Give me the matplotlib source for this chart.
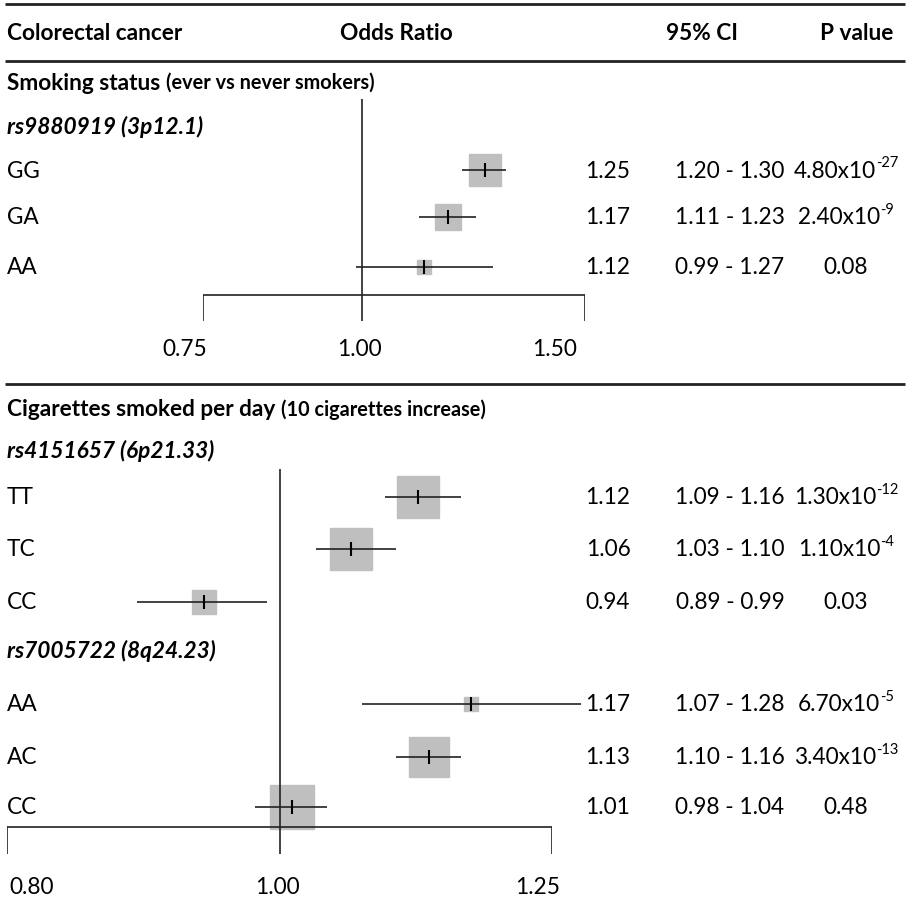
import matplotlib
matplotlib.use('Agg')
import matplotlib.pyplot as plt
from matplotlib.transforms import offset_copy

plt.rcParams['font.family'] = ['Lato', 'DejaVu Sans']

# --- data -------------------------------------------------------------
top_genotypes = ['GG', 'GA', 'AA']
top_or = [1.25, 1.17, 1.12]
top_lo = [1.20, 1.11, 0.99]
top_hi = [1.30, 1.23, 1.27]
top_p = [('4.80x10', '-27'), ('2.40x10', '-9'), ('0.08', '')]
top_weight = [32, 27, 14]          # box side, px
top_ticks = [0.75, 1.00, 1.50]

bot_snps = ['rs4151657 (6p21.33)', 'rs7005722 (8q24.23)']
bot_genotypes = [['TT', 'TC', 'CC'], ['AA', 'AC', 'CC']]
bot_or = [[1.12, 1.06, 0.94], [1.17, 1.13, 1.01]]
bot_lo = [[1.09, 1.03, 0.89], [1.07, 1.10, 0.98]]
bot_hi = [[1.16, 1.10, 0.99], [1.28, 1.16, 1.04]]
bot_p = [[('1.30x10', '-12'), ('1.10x10', '-4'), ('0.03', '')],
         [('6.70x10', '-5'), ('3.40x10', '-13'), ('0.48', '')]]
bot_weight = [[42, 43, 25], [15, 41, 44]]
bot_ticks = [0.80, 1.00, 1.25]

# --- layout -----------------------------------------------------------
W, H = 916, 904
fig = plt.figure(figsize=(W / 100, H / 100), dpi=100)
ax0 = fig.add_axes([0, 0, 1, 1])
ax0.set_xlim(0, W)
ax0.set_ylim(H, 0)
ax0.axis('off')
renderer = fig.canvas.get_renderer()

FS = 16.3
FS_SMALL = 14.3
FS_SUP = 10.5
BOX = '#bfbfbf'
LINE = '#222222'
X_OR, X_CI, X_P = 608, 730, 846


def forest_axes(x0, x1, y0, y1, lims):
    ax = fig.add_axes([x0 / W, 1 - y1 / H, (x1 - x0) / W, (y1 - y0) / H])
    ax.set_xscale('log')
    ax.set_xlim(*lims)
    ax.set_ylim(y1, y0)
    ax.axis('off')
    return ax


def pvalue(y, mant, expo):
    base = ax0.text(X_P, y, mant, fontsize=FS, va='center', ha='left')
    if not expo:
        base.set_ha('center')
        return
    sup = ax0.annotate(expo, xy=(1.0, 0.88), xycoords=base, fontsize=FS_SUP,
                       va='center', ha='left')
    w = base.get_window_extent(renderer).width + sup.get_window_extent(renderer).width
    base.set_x(X_P - w / 2)


def draw_row(ax, y, label, orv, lo, hi, pv, box):
    ax.plot(orv, y, marker='s', ms=box / 1.389, color=BOX, mec=BOX, clip_on=False, zorder=2)
    ax.hlines(y, lo, hi, color=LINE, lw=1.2, clip_on=False, zorder=3)
    ax.plot(orv, y, marker='|', ms=10, mew=1.5, color='black', clip_on=False, zorder=4)
    ax0.text(7, y, label, fontsize=FS, va='center', ha='left')
    ax0.text(X_OR, y, f'{orv:.2f}', fontsize=FS, va='center', ha='center')
    ax0.text(X_CI, y, f'{lo:.2f} - {hi:.2f}', fontsize=FS, va='center', ha='center')
    pvalue(y, *pv)


def draw_scale(ax, ticks, y_axis, y_tick, y_lab, ymin_ref, offsets):
    ax.hlines(y_axis, ticks[0], ticks[-1], color=LINE, lw=1.2)
    ax.vlines([ticks[0], ticks[-1]], y_axis, y_tick, color=LINE, lw=1.2)
    ax.vlines(1.0, ymin_ref, y_tick, color=LINE, lw=1.2)
    for t, dx in zip(ticks, offsets):
        tr = offset_copy(ax.transData, fig=fig, x=dx, y=0, units='dots')
        ax.text(t, y_lab, f'{t:.2f}', transform=tr, fontsize=FS, ha='center', va='center')


# header
for y in (5, 62, 385):
    ax0.hlines(y, 5, 905, color='#222222', lw=2)
ax0.text(7, 34, 'Colorectal cancer', fontsize=FS, fontweight='bold', va='center')
ax0.text(396, 34, 'Odds Ratio', fontsize=FS, fontweight='bold', va='center', ha='center')
ax0.text(702, 34, '95% CI', fontsize=FS, fontweight='bold', va='center', ha='center')
ax0.text(857, 34, 'P value', fontsize=FS, fontweight='bold', va='center', ha='center')

# top panel
t = ax0.text(7, 83, 'Smoking status ', fontsize=FS, fontweight='bold', va='center')
ax0.annotate('(ever vs never smokers)', xycoords=t, xy=(1, 0.5), va='center',
             fontsize=FS_SMALL, fontweight='bold')
ax0.text(7, 127, 'rs9880919 (3p12.1)', fontsize=FS, fontweight='bold', style='italic', va='center')

ax1 = forest_axes(203, 585, 100, 322, (0.75, 1.50))
for i, y in enumerate([171, 218, 268]):
    draw_row(ax1, y, top_genotypes[i], top_or[i], top_lo[i], top_hi[i], top_p[i], top_weight[i])
draw_scale(ax1, top_ticks, 296, 322, 350, 100, [-18, -2, -30])

# bottom panel
t = ax0.text(7, 410, 'Cigarettes smoked per day ', fontsize=FS, fontweight='bold', va='center')
ax0.annotate('(10 cigarettes increase)', xycoords=t, xy=(1, 0.5), va='center',
             fontsize=FS_SMALL, fontweight='bold')

ax2 = forest_axes(7, 552, 470, 855, (0.80, 1.25))
snp_y = [451, 651]
row_y = [[498, 550, 603], [705, 758, 808]]
for s in range(2):
    ax0.text(7, snp_y[s], bot_snps[s], fontsize=FS, fontweight='bold', style='italic', va='center')
    for i, y in enumerate(row_y[s]):
        draw_row(ax2, y, bot_genotypes[s][i], bot_or[s][i], bot_lo[s][i], bot_hi[s][i],
                 bot_p[s][i], bot_weight[s][i])
draw_scale(ax2, bot_ticks, 828, 855, 888, 470, [25, -2, -14])

fig.savefig('out.png', dpi=100)
